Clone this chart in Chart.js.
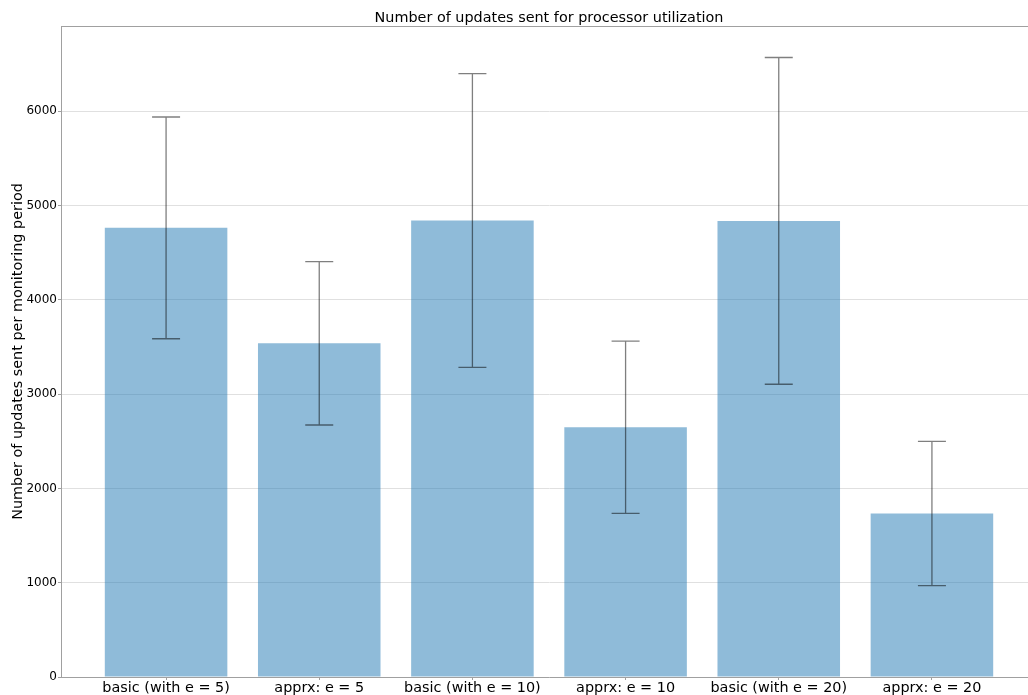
<!DOCTYPE html>
<html>
<head>
<meta charset="utf-8">
<script src="https://cdn.jsdelivr.net/npm/chart.js@4"></script>
<style>
    html, body { margin: 0; padding: 0; overflow: hidden; background: #fff; }
    canvas { display: block; }
</style>
</head>
<body>
<canvas id="updatesChart" width="1037" height="695"></canvas>
<script>
// Data
const categories = ['basic (with e = 5)', 'apprx: e = 5', 'basic (with e = 10)', 'apprx: e = 10', 'basic (with e = 20)', 'apprx: e = 20'];
const means = [4764, 3539, 4842, 2649, 4838, 1734];
const errors = [1176, 866, 1558, 914, 1733, 765];
const yTicks = [0, 1000, 2000, 3000, 4000, 5000, 6000];

const FONT = "'DejaVu Sans', sans-serif";
const axisGray = '#a0a0a0';

// Error bars with caps, drawn over the bars
const errorBarPlugin = {
    id: 'errorBars',
    afterDatasetsDraw(chart) {
        const ctx = chart.ctx;
        const meta = chart.getDatasetMeta(0);
        const yScale = chart.scales.y;
        ctx.save();
        ctx.strokeStyle = 'rgba(0, 0, 0, 0.5)';
        ctx.lineWidth = 1.3;
        meta.data.forEach((bar, i) => {
            const top = yScale.getPixelForValue(means[i] + errors[i]);
            const bottom = yScale.getPixelForValue(means[i] - errors[i]);
            ctx.beginPath();
            ctx.moveTo(bar.x, top);
            ctx.lineTo(bar.x, bottom);
            ctx.moveTo(bar.x - 14, top);
            ctx.lineTo(bar.x + 14, top);
            ctx.moveTo(bar.x - 14, bottom);
            ctx.lineTo(bar.x + 14, bottom);
            ctx.stroke();
        });
        ctx.restore();
    }
};

// Top spine of the axes box
const framePlugin = {
    id: 'frame',
    afterDraw(chart) {
        const { ctx, chartArea } = chart;
        ctx.save();
        ctx.strokeStyle = axisGray;
        ctx.lineWidth = 1;
        ctx.beginPath();
        ctx.moveTo(chartArea.left, Math.round(chartArea.top) + 0.5);
        ctx.lineTo(chartArea.right, Math.round(chartArea.top) + 0.5);
        ctx.stroke();
        ctx.restore();
    }
};

const ctx = document.getElementById('updatesChart').getContext('2d');
new Chart(ctx, {
    type: 'bar',
    data: {
        datasets: [{
            data: means.map((v, i) => ({ x: i, y: v })),
            backgroundColor: 'rgba(31, 119, 180, 0.5)',
            borderWidth: 0,
            categoryPercentage: 1,
            barPercentage: 0.8
        }]
    },
    options: {
        responsive: false,
        animation: false,
        devicePixelRatio: 1,
        layout: { padding: 0 },
        plugins: {
            legend: { display: false },
            tooltip: { enabled: false },
            title: {
                display: true,
                fullSize: false,
                text: 'Number of updates sent for processor utilization',
                color: '#000',
                font: { family: FONT, size: 14.4, weight: 'normal', lineHeight: 1 },
                padding: { top: 11, bottom: 0.6 }
            }
        },
        scales: {
            x: {
                type: 'linear',
                offset: false,
                min: -0.686,
                max: 5.686,
                afterBuildTicks: (scale) => {
                    scale.ticks = categories.map((_, i) => ({ value: i }));
                },
                afterFit: (scale) => { scale.height = 18; },
                ticks: {
                    autoSkip: false,
                    maxRotation: 0,
                    padding: 0,
                    color: '#000',
                    font: { family: FONT, size: 14.4 },
                    callback: (v) => categories[v]
                },
                grid: {
                    offset: false,
                    drawOnChartArea: false,
                    tickLength: 3,
                    tickColor: axisGray
                },
                border: { color: axisGray }
            },
            y: {
                min: 0,
                max: 6905,
                afterBuildTicks: (scale) => {
                    scale.ticks = yTicks.map(v => ({ value: v }));
                },
                afterFit: (scale) => { scale.width = 61; },
                ticks: {
                    padding: 1,
                    color: '#000',
                    font: { family: FONT, size: 12 },
                    callback: (v) => String(v)
                },
                grid: {
                    color: '#e0e0e0',
                    tickLength: 3,
                    tickColor: axisGray
                },
                border: { color: axisGray },
                title: {
                    display: true,
                    text: 'Number of updates sent per monitoring period',
                    color: '#000',
                    font: { family: FONT, size: 14.4 },
                    padding: { top: 10, bottom: 0 }
                }
            }
        }
    },
    plugins: [errorBarPlugin, framePlugin]
});
</script>
</body>
</html>
